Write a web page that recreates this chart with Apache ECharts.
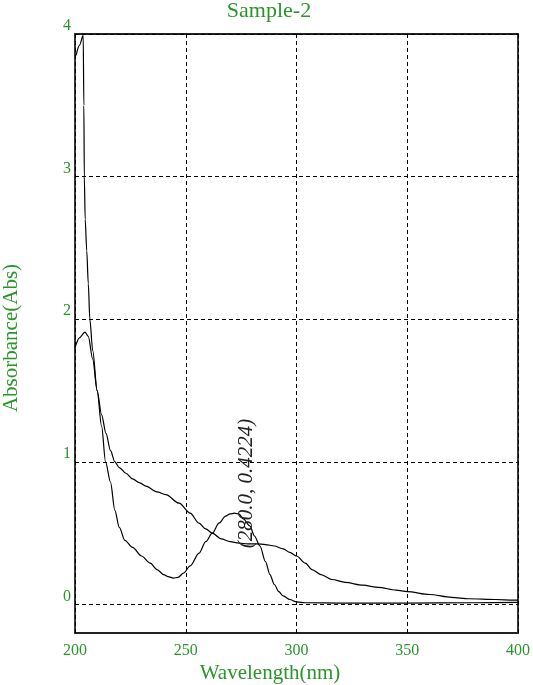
<!DOCTYPE html>
<html>
<head>
<meta charset="utf-8">
<script src="https://cdn.jsdelivr.net/npm/echarts@6/dist/echarts.min.js"></script>
<style>html,body{margin:0;padding:0;background:#fff}#c{width:533px;height:685px}</style>
</head>
<body>
<div id="c"></div>
<script>
const titleText = 'Sample-2';
const xName = 'Wavelength(nm)';
const yName = 'Absorbance(Abs)';
const xTicks = [200, 250, 300, 350, 400];
const yTicks = [0, 1, 2, 3, 4];
const annotation = { wl: 280.0, abs: 0.4224, text: '(280.0, 0.4224)' };

const wlA = [200.5, 202, 203.7, 204, 204.2, 204.6, 205.3, 206, 206.7, 208, 210, 212, 213.8, 216, 218, 220, 222.5, 226, 230, 234, 237, 240, 242, 244.5, 246.5, 249, 252, 256, 259, 262, 265, 268, 270, 272, 274, 276, 279, 281, 283.5, 286, 288, 290, 292, 294, 297, 300, 304, 320, 350, 380, 400];
const absA = [3.85, 3.92, 3.99, 3.5, 3.0, 2.7, 2.48, 2.25, 2.0, 1.78, 1.5, 1.25, 1.0, 0.86, 0.66, 0.54, 0.45, 0.40, 0.34, 0.29, 0.245, 0.21, 0.195, 0.185, 0.19, 0.22, 0.27, 0.36, 0.44, 0.50, 0.57, 0.62, 0.635, 0.64, 0.635, 0.60, 0.55, 0.48, 0.41, 0.30, 0.21, 0.14, 0.09, 0.06, 0.035, 0.018, 0.012, 0.01, 0.01, 0.012, 0.015];

const wlB = [200, 202, 204.5, 206, 208, 210, 212, 214, 216, 218, 220, 223, 226, 229, 232, 237, 241, 247, 252, 256, 259, 262, 266, 270, 274, 278, 282, 286, 290, 294, 297, 300, 304, 307, 311, 316, 322, 330, 337, 345, 350, 360, 370, 378, 390, 398, 400];
const absB = [1.80, 1.87, 1.91, 1.88, 1.72, 1.50, 1.33, 1.20, 1.08, 1.0, 0.96, 0.92, 0.88, 0.855, 0.83, 0.79, 0.77, 0.71, 0.64, 0.57, 0.53, 0.50, 0.46, 0.44, 0.43, 0.425, 0.425, 0.42, 0.41, 0.39, 0.365, 0.34, 0.29, 0.245, 0.21, 0.175, 0.155, 0.135, 0.12, 0.10, 0.09, 0.07, 0.05, 0.04, 0.035, 0.03, 0.03];

const green = '#2a962a';
const serif = 'Liberation Serif';

const chart = echarts.init(document.getElementById('c'));
const pairs = (xs, ys) => xs.map((x, i) => [x, ys[i]]);
const dashed = { show: true, lineStyle: { color: '#000', type: [4, 3], width: 1 } };

chart.setOption({
  animation: false,
  backgroundColor: '#fff',
  grid: { left: 75, right: 14, top: 34, bottom: 52, show: true, borderColor: '#222', borderWidth: 1.8, backgroundColor: 'transparent' },
  xAxis: {
    type: 'value', min: 200, max: 400, interval: 50,
    axisLine: { show: false }, axisTick: { show: false },
    axisLabel: { color: green, fontFamily: serif, fontSize: 16, margin: 10, customValues: xTicks },
    splitLine: dashed
  },
  yAxis: {
    type: 'value', min: -0.2, max: 4,
    axisLine: { show: false },
    axisTick: { show: false, customValues: yTicks },
    axisLabel: { color: green, fontFamily: serif, fontSize: 16, margin: 4, verticalAlign: 'bottom', customValues: yTicks },
    splitLine: dashed
  },
  graphic: [
    { type: 'text', x: 269, y: 11, style: { text: titleText, font: '22px "Liberation Serif"', fill: green, align: 'center', verticalAlign: 'middle' } },
    { type: 'text', x: 270, y: 673, style: { text: xName, font: '21px "Liberation Serif"', fill: green, align: 'center', verticalAlign: 'middle' } },
    { type: 'text', x: 11, y: 338, rotation: Math.PI / 2, style: { text: yName, font: '21px "Liberation Serif"', fill: green, align: 'center', verticalAlign: 'middle' } }
  ],
  series: [
    { type: 'line', data: pairs(wlA, absA), showSymbol: false, smooth: 0.3, smoothMonotone: 'x', lineStyle: { color: '#000', width: 1.2 }, z: 3 },
    {
      type: 'line', data: pairs(wlB, absB), showSymbol: false, smooth: 0.3, smoothMonotone: 'x', lineStyle: { color: '#000', width: 1.2 }, z: 3,
      markPoint: {
        symbol: 'circle', symbolSize: 0.1, itemStyle: { color: 'transparent' },
        label: { show: true, formatter: annotation.text, rotate: 90, position: [0, 0], align: 'left', verticalAlign: 'middle', offset: [-4, -6], fontFamily: serif, fontStyle: 'italic', fontSize: 21, color: '#222' },
        data: [{ coord: [annotation.wl, annotation.abs] }]
      }
    }
  ]
});
</script>
</body>
</html>
